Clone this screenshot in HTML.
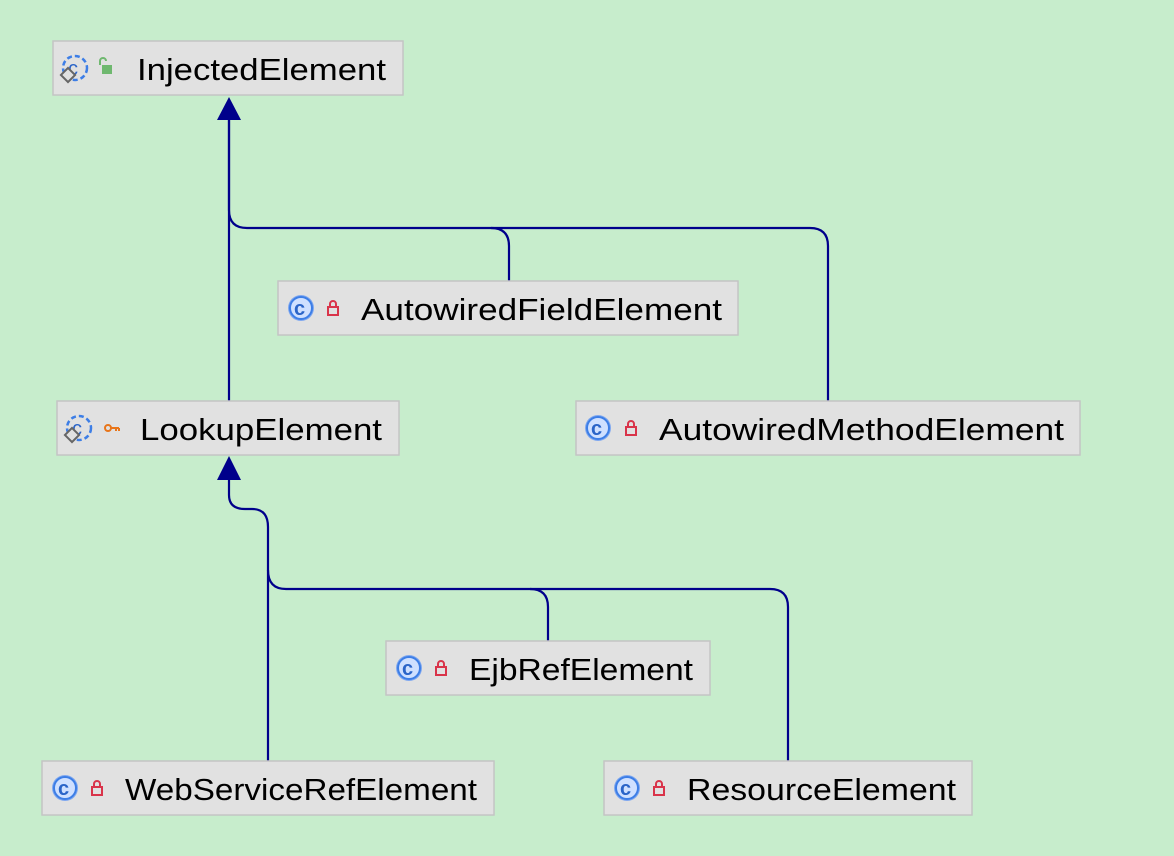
<!DOCTYPE html>
<html><head><style>
html,body{margin:0;padding:0;background:#c7edcc;}
svg{display:block}
text{font-family:"Liberation Sans",sans-serif;font-size:31px;fill:#000}
.b{fill:#e1e1e1;stroke:#c4c4c4;stroke-width:1.5}
.l{fill:none;stroke:#00008b;stroke-width:2.2}
</style></head><body>
<svg width="1174" height="856" viewBox="0 0 1174 856">
<defs>
<g id="c"><circle r="13" fill="#7fa8f0"/><circle r="11" fill="#cfe0ff" stroke="#3d7ee6" stroke-width="2"/><text x="-7" y="7" style="font-size:20px;fill:#2a64c8;font-weight:bold">c</text></g>
<g id="ca"><circle r="12" fill="none" stroke="#3d7ee6" stroke-width="2.5" stroke-dasharray="5 3"/><text x="-7" y="7" style="font-size:20px;fill:#2a64c8">c</text><rect x="-12" y="2" width="10" height="10" transform="rotate(45 -7 7)" fill="#e1e1e1" stroke="#666" stroke-width="2"/></g>
<g id="lk"><rect x="-5" y="-2" width="10" height="8" fill="none" stroke="#d9344a" stroke-width="2"/><path d="M-3,-2 v-3 a3,3 0 0 1 6,0 v3" fill="none" stroke="#d9344a" stroke-width="2"/></g>
</defs>
<path class="l" d="M229,118 V210 Q229,228 247,228 H491 Q509,228 509,246 V281"/>
<path class="l" d="M229,118 V401"/>
<path class="l" d="M491,228 H810 Q828,228 828,246 V401"/>
<polygon points="229,97 217,120 241,120" fill="#00008b"/>
<path class="l" d="M229,478 V495 Q229,509 245,509 H252 Q268,509 268,527 V761"/>
<path class="l" d="M268,570 Q268,589 286,589 H530 Q548,589 548,607 V641"/>
<path class="l" d="M530,589 H770 Q788,589 788,607 V761"/>
<polygon points="229,456 217,480 241,480" fill="#00008b"/>

<rect class="b" x="53" y="41" width="350" height="54"/>
<use href="#ca" x="75" y="68"/>
<rect x="102" y="65" width="10" height="9" fill="#6fb86f"/><path d="M100,65 v-4 a3,3 0 0 1 6,0" fill="none" stroke="#6fb86f" stroke-width="2"/>
<text x="137" y="80" textLength="249" lengthAdjust="spacingAndGlyphs">InjectedElement</text>

<rect class="b" x="278" y="281" width="460" height="54"/>
<use href="#c" x="301" y="308"/><use href="#lk" x="333" y="309"/>
<text x="361" y="320" textLength="361" lengthAdjust="spacingAndGlyphs">AutowiredFieldElement</text>

<rect class="b" x="57" y="401" width="342" height="54"/>
<use href="#ca" x="79" y="428"/>
<circle cx="108" cy="428" r="3" fill="none" stroke="#e8751a" stroke-width="2"/><path d="M111,428 h8 M116,428 v3 M119,428 v3" stroke="#e8751a" stroke-width="2"/>
<text x="140" y="440" textLength="242" lengthAdjust="spacingAndGlyphs">LookupElement</text>

<rect class="b" x="576" y="401" width="504" height="54"/>
<use href="#c" x="598" y="428"/><use href="#lk" x="631" y="429"/>
<text x="659" y="440" textLength="405" lengthAdjust="spacingAndGlyphs">AutowiredMethodElement</text>

<rect class="b" x="386" y="641" width="324" height="54"/>
<use href="#c" x="409" y="668"/><use href="#lk" x="441" y="669"/>
<text x="469" y="680" textLength="224" lengthAdjust="spacingAndGlyphs">EjbRefElement</text>

<rect class="b" x="42" y="761" width="452" height="54"/>
<use href="#c" x="65" y="788"/><use href="#lk" x="97" y="789"/>
<text x="125" y="800" textLength="352" lengthAdjust="spacingAndGlyphs">WebServiceRefElement</text>

<rect class="b" x="604" y="761" width="368" height="54"/>
<use href="#c" x="627" y="788"/><use href="#lk" x="659" y="789"/>
<text x="687" y="800" textLength="269" lengthAdjust="spacingAndGlyphs">ResourceElement</text>
</svg>
</body></html>
